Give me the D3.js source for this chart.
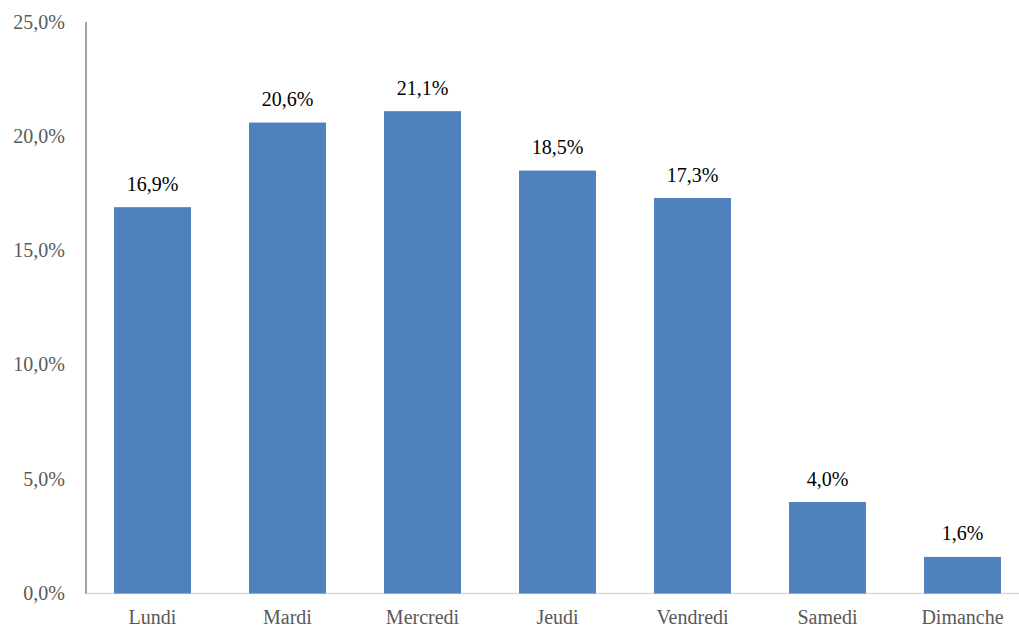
<!DOCTYPE html>
<html><head><meta charset="utf-8">
<script src="https://cdn.jsdelivr.net/npm/d3@7"></script>
<style>body{margin:0;background:#fff;} svg{display:block;} text{font-family:"Liberation Serif","Times New Roman","DejaVu Serif",serif;}</style>
</head><body>
<svg id="c" width="1019" height="628"></svg>
<script>
const categories = ["Lundi","Mardi","Mercredi","Jeudi","Vendredi","Samedi","Dimanche"];
const values = [16.9, 20.6, 21.1, 18.5, 17.3, 4.0, 1.6];
const yTicks = [0, 5, 10, 15, 20, 25];

const svg = d3.select("#c");
const fmt = v => d3.format(".1f")(v).replace(".", ",") + "%";
const fs = 20;

const x = d3.scaleBand().domain(categories).range([85, 1030]).paddingInner(0.43).paddingOuter(0.215);
const y = d3.scaleLinear().domain([0, 25]).range([593.5, 22]);

// x baseline
svg.append("line").attr("x1", 85).attr("x2", 1019).attr("y1", y(0)).attr("y2", y(0))
  .attr("stroke", "#d9d9d9").attr("stroke-width", 1.5);

// bars
svg.selectAll("rect.bar").data(values).join("rect").attr("class","bar")
  .attr("x", (d,i) => x(categories[i]))
  .attr("width", x.bandwidth())
  .attr("y", d => y(d))
  .attr("height", d => y(0) - y(d))
  .attr("fill", "#4f81bd");

// y axis line
svg.append("line").attr("x1", 86).attr("x2", 86).attr("y1", y(25)).attr("y2", y(0))
  .attr("stroke", "#868686").attr("stroke-width", 1.5);

// y tick labels
svg.selectAll("text.yt").data(yTicks).join("text").attr("class","yt")
  .attr("x", 65).attr("y", d => y(d) + 6.5)
  .attr("text-anchor", "end")
  .attr("font-size", fs).attr("fill", "#595959")
  .text(fmt);

// category labels
svg.selectAll("text.xc").data(categories).join("text").attr("class","xc")
  .attr("x", d => x(d) + x.bandwidth()/2).attr("y", 624)
  .attr("text-anchor", "middle")
  .attr("font-size", fs).attr("fill", "#595959")
  .text(d => d);

// data labels
svg.selectAll("text.dl").data(values).join("text").attr("class","dl")
  .attr("x", (d,i) => x(categories[i]) + x.bandwidth()/2)
  .attr("y", d => y(d) - 16.5)
  .attr("text-anchor", "middle")
  .attr("font-size", fs).attr("fill", "#000")
  .text(fmt);
</script>
</body></html>
